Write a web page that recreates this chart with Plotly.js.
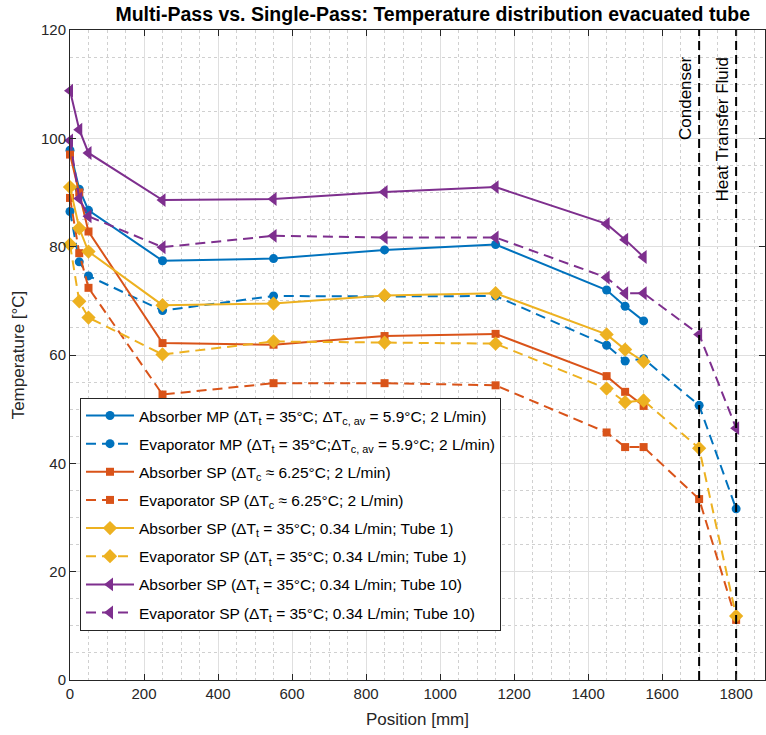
<!DOCTYPE html>
<html>
<head>
<meta charset="utf-8">
<script src="https://cdn.plot.ly/plotly-3.0.1.min.js"></script>
<style>html,body{margin:0;padding:0;background:#fff;}#chart{width:766px;height:735px;}</style>
</head>
<body>
<div id="chart"></div>
<script>
// Positions [mm]
const pos = [0, 25, 50, 250, 550, 850, 1150, 1450, 1500, 1550];
const posExt = [0, 25, 50, 250, 550, 850, 1150, 1450, 1500, 1550, 1700, 1800];

// Temperatures [°C]
const absMP   = [97.8, 90.6, 86.7, 77.4, 77.8, 79.4, 80.4, 72.0, 69.0, 66.3];
const evapMP  = [86.5, 77.2, 74.6, 68.2, 70.9, 70.8, 70.9, 61.8, 58.9, 59.3, 50.7, 31.6];
const absSP   = [97.0, 90.0, 82.8, 62.2, 61.9, 63.5, 63.9, 56.1, 53.2, 50.6];
const evapSP  = [89.0, 78.8, 72.4, 52.7, 54.8, 54.8, 54.4, 45.7, 43.0, 43.0, 33.4, 11.1];
const absT1   = [91.0, 83.4, 79.1, 69.2, 69.5, 71.0, 71.4, 63.8, 61.0, 58.8];
const evapT1  = [80.4, 69.9, 66.9, 60.1, 62.5, 62.3, 62.1, 53.8, 51.3, 51.6, 42.8, 11.8];
const absT10  = [108.8, 101.6, 97.3, 88.6, 88.8, 90.1, 91.0, 84.2, 81.3, 78.1];
const evapT10 = [99.6, 88.9, 85.6, 79.9, 82.0, 81.7, 81.7, 74.3, 71.4, 71.4, 63.8, 46.5];

// Series labels
const names = [
  'Absorber MP (ΔT<sub>t</sub> = 35°C; ΔT<sub>c, av</sub> = 5.9°C; 2 L/min)',
  'Evaporator MP (ΔT<sub>t</sub> = 35°C;ΔT<sub>c, av</sub> = 5.9°C; 2 L/min)',
  'Absorber SP (ΔT<sub>c</sub> ≈ 6.25°C; 2 L/min)',
  'Evaporator SP (ΔT<sub>c</sub> ≈ 6.25°C; 2 L/min)',
  'Absorber SP (ΔT<sub>t</sub> = 35°C; 0.34 L/min; Tube 1)',
  'Evaporator SP (ΔT<sub>t</sub> = 35°C; 0.34 L/min; Tube 1)',
  'Absorber SP (ΔT<sub>t</sub> = 35°C; 0.34 L/min; Tube 10)',
  'Evaporator SP (ΔT<sub>t</sub> = 35°C; 0.34 L/min; Tube 10)'
];

// Vertical reference lines
const refX = [1700, 1800];
const refLabels = ['Condenser', 'Heat Transfer Fluid'];
const yLimits = [0, 120];

const C = ['#0072BD', '#D95319', '#EDB120', '#7E2F8E'];
const dashC = '10px,6px';
const FONT = 'Liberation Sans, Arial, sans-serif';

function tr(x, y, name, color, dashed, symbol, msize) {
  return {
    x: x, y: y, name: name, type: 'scatter', mode: 'lines+markers',
    line: {color: color, width: 2, dash: dashed ? dashC : 'solid'},
    marker: {symbol: symbol, size: msize, color: color},
    cliponaxis: false,
    legendgroup: name
  };
}

const data = [
  tr(pos, absMP, names[0], C[0], false, 'circle', 9),
  tr(posExt, evapMP, names[1], C[0], true, 'circle', 9),
  tr(pos, absSP, names[2], C[1], false, 'square', 8),
  tr(posExt, evapSP, names[3], C[1], true, 'square', 8),
  tr(pos, absT1, names[4], C[2], false, 'diamond', 11),
  tr(posExt, evapT1, names[5], C[2], true, 'diamond', 11),
  tr(pos, absT10, names[6], C[3], false, 'triangle-left', 12),
  tr(posExt, evapT10, names[7], C[3], true, 'triangle-left', 12)
];

refX.forEach(function (xv) {
  data.push({
    x: [xv, xv], y: yLimits, type: 'scatter', mode: 'lines',
    line: {color: '#000', width: 2, dash: '9px,5px'},
    showlegend: false, hoverinfo: 'skip'
  });
});

const axisCommon = {
  showline: true, mirror: 'ticks', linecolor: '#262626', linewidth: 1,
  ticks: 'inside', ticklen: 6, tickcolor: '#262626', tickwidth: 1,
  showgrid: true, gridcolor: '#dfdfdf', gridwidth: 1,
  zeroline: false,
  tickfont: {family: FONT, size: 15, color: '#262626'}
};

const layout = {
  width: 766, height: 735,
  margin: {l: 70, r: 1, t: 30, b: 55},
  paper_bgcolor: '#fff', plot_bgcolor: '#fff',
  font: {family: FONT, color: '#262626'},
  title: {
    text: '<b>Multi-Pass vs. Single-Pass: Temperature distribution evacuated tube</b>',
    font: {family: FONT, size: 19.5, color: '#000'},
    x: 0.565, xanchor: 'center', y: 0.981, yanchor: 'middle'
  },
  xaxis: Object.assign({}, axisCommon, {
    range: [0, 1878], dtick: 200, tick0: 0,
    minor: {dtick: 50, showgrid: true, gridcolor: '#d0d0d0', griddash: 'dot', gridwidth: 1, ticks: ''},
    title: {text: 'Position [mm]', font: {size: 17, color: '#262626'}, standoff: 12}
  }),
  yaxis: Object.assign({}, axisCommon, {
    range: [0, 120], dtick: 20, tick0: 0,
    minor: {dtick: 5, showgrid: true, gridcolor: '#d0d0d0', griddash: 'dot', gridwidth: 1, ticks: ''},
    title: {text: 'Temperature [°C]', font: {size: 17, color: '#262626'}, standoff: 12}
  }),
  legend: {
    x: 0.0144, y: 0.434, xanchor: 'left', yanchor: 'top',
    bgcolor: '#fff', bordercolor: '#262626', borderwidth: 1,
    font: {family: FONT, size: 15.5, color: '#000'},
    itemwidth: 48,
    tracegroupgap: 5
  },
  showlegend: true,
  annotations: refX.map(function (xv, i) {
    return {
      x: xv, y: 115.5, xref: 'x', yref: 'y', text: refLabels[i],
      textangle: -90, showarrow: false, xanchor: 'right', yanchor: 'top',
      xshift: -2,
      font: {family: FONT, size: 17, color: '#000'}
    };
  })
};

Plotly.newPlot('chart', data, layout, {displayModeBar: false, staticPlot: true});
</script>
</body>
</html>
